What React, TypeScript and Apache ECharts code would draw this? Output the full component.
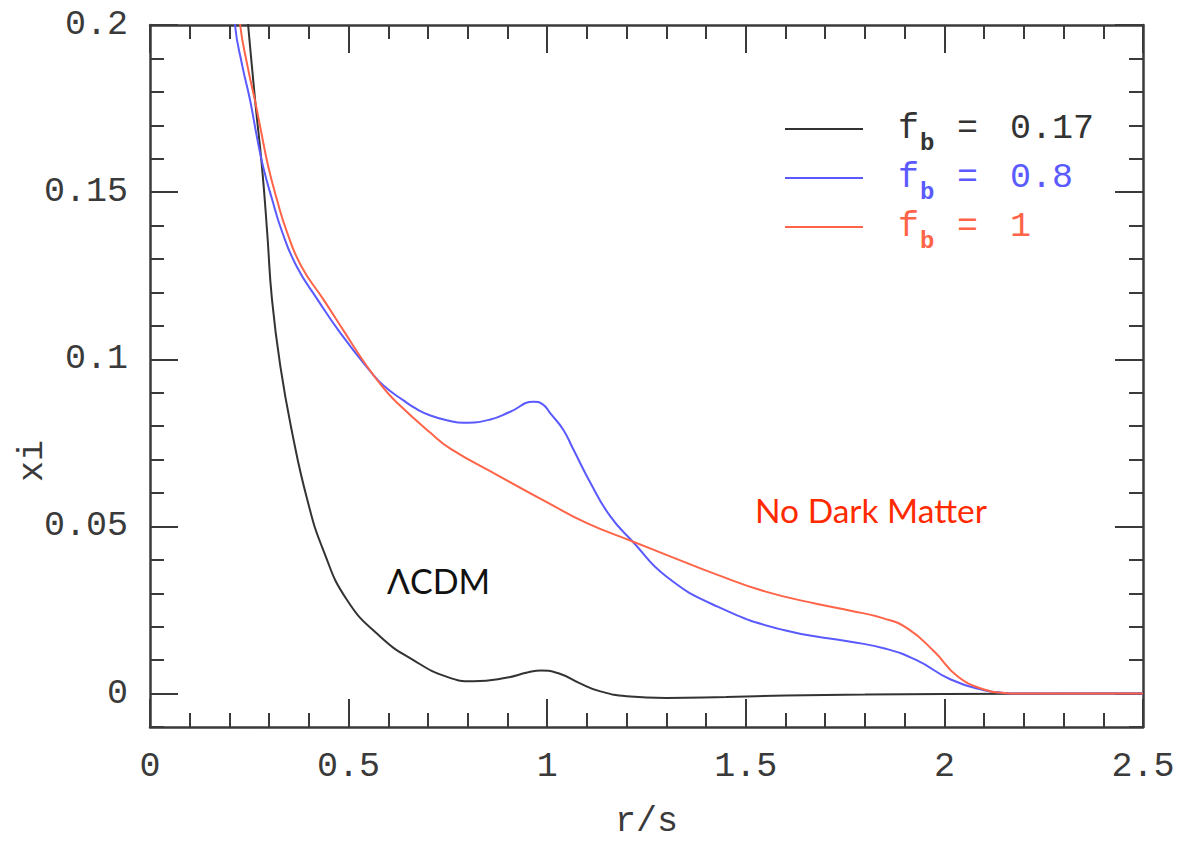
import { useEffect, useRef } from "react";
import * as echarts from "echarts";

// ---- data ----
const rLCDM = [0.235, 0.247, 0.265, 0.282, 0.295, 0.307, 0.328, 0.358, 0.396, 0.436, 0.496, 0.58, 0.663, 0.748, 0.814, 0.9, 0.95, 0.985, 1.03, 1.08, 1.13, 1.2, 1.3, 1.45, 1.6, 1.8, 2.0, 2.5];
const xiLCDM = [0.215, 0.2, 0.177, 0.1575, 0.138, 0.118, 0.098, 0.078, 0.058, 0.043, 0.028, 0.017, 0.01, 0.005, 0.0037, 0.0048, 0.0063, 0.0069, 0.006, 0.0032, 0.0008, -0.0008, -0.0013, -0.001, -0.0006, -0.0003, -0.0001, 0];

const rFb08 = [0.2, 0.214, 0.232, 0.252, 0.27, 0.285, 0.307, 0.333, 0.37, 0.421, 0.479, 0.554, 0.587, 0.638, 0.673, 0.706, 0.75, 0.789, 0.857, 0.907, 0.966, 0.988, 1.008, 1.04, 1.066, 1.109, 1.159, 1.215, 1.3, 1.429, 1.595, 1.764, 1.85, 1.93, 2.016, 2.1, 2.15, 2.2, 2.5];
const xiFb08 = [0.225, 0.2, 0.188, 0.1775, 0.166, 0.1575, 0.148, 0.138, 0.1276, 0.118, 0.1079, 0.0965, 0.0922, 0.0877, 0.085, 0.0832, 0.0817, 0.081, 0.082, 0.0843, 0.0873, 0.0866, 0.0838, 0.079, 0.073, 0.063, 0.053, 0.0455, 0.035, 0.026, 0.019, 0.0155, 0.0135, 0.01, 0.0042, 0.001, 0.0002, 0, 0];

const rFb1 = [0.21, 0.227, 0.245, 0.265, 0.28, 0.298, 0.319, 0.345, 0.382, 0.436, 0.491, 0.537, 0.587, 0.622, 0.706, 0.756, 0.88, 1.0, 1.1, 1.215, 1.3, 1.429, 1.55, 1.68, 1.764, 1.847, 1.907, 1.975, 2.033, 2.1, 2.15, 2.2, 2.5];
const xiFb1 = [0.222, 0.2, 0.188, 0.177, 0.168, 0.1575, 0.148, 0.138, 0.1276, 0.118, 0.1079, 0.0995, 0.0915, 0.087, 0.078, 0.0733, 0.065, 0.0572, 0.051, 0.0455, 0.0415, 0.0355, 0.0305, 0.0268, 0.0248, 0.0225, 0.0195, 0.0125, 0.0052, 0.0012, 0.0002, 0, 0];

const seriesNames = ["f_b = 0.17", "f_b = 0.8", "f_b = 1"];
const fbValues = ["0.17", "0.8", "1"];
const seriesColors = ["#333333", "#5a5aff", "#ff6448"];

const xMin = 0;
const xMax = 2.5;
const xInterval = 0.5;
const yMin = -0.01;
const yMax = 0.2;
const yMinorInterval = 0.01;
const yLabelValues = [0, 0.05, 0.1, 0.15, 0.2];

const zip = (xs: number[], ys: number[]) => xs.map((x, i) => [x, ys[i]]);

const AXIS_COLOR = "#3a3a3a";
const MONO = "'Liberation Mono', 'DejaVu Sans Mono', monospace";
const LABEL_SIZE = 35;

export default function App() {
  const ref = useRef<HTMLDivElement>(null);

  useEffect(() => {
    if (!ref.current) return;
    const chart = echarts.init(ref.current, undefined, { renderer: "svg" });

    const lineStyle = { color: AXIS_COLOR, width: 2.5 };
    const majorTick = { show: true, inside: true, length: 28, lineStyle: { color: AXIS_COLOR, width: 2 } };
    const minorTick = { show: true, splitNumber: 5, length: 14, lineStyle: { color: AXIS_COLOR, width: 2 } };

    const yMajorTick = (pos: "left" | "right") => ({
      type: "value",
      position: pos,
      min: yMin,
      max: yMax,
      axisLine: { show: false, onZero: false },
      axisTick: { ...majorTick, customValues: yLabelValues },
      axisLabel: { show: false },
      splitLine: { show: false },
    });

    const fmtY = (v: number) => String(Number(v.toFixed(2)));

    const option: any = {
      animation: false,
      grid: { left: 150, top: 25, right: 36, bottom: 119, containLabel: false },
      xAxis: [
        {
          type: "value",
          position: "bottom",
          min: xMin,
          max: xMax,
          interval: xInterval,
          axisLine: { show: true, onZero: false, lineStyle },
          axisTick: majorTick,
          minorTick,
          axisLabel: {
            color: AXIS_COLOR,
            fontFamily: MONO,
            fontSize: LABEL_SIZE,
            margin: 22,
            formatter: (v: number) => String(Number(v.toFixed(2))),
          },
          splitLine: { show: false },
          name: "r/s",
          nameLocation: "middle",
          nameGap: 77,
          nameTextStyle: { color: AXIS_COLOR, fontFamily: MONO, fontSize: LABEL_SIZE },
        },
        {
          type: "value",
          position: "top",
          min: xMin,
          max: xMax,
          interval: xInterval,
          axisLine: { show: true, onZero: false, lineStyle },
          axisTick: majorTick,
          minorTick,
          axisLabel: { show: false },
          splitLine: { show: false },
        },
      ],
      yAxis: [
        {
          type: "value",
          position: "left",
          min: yMin,
          max: yMax,
          interval: yMinorInterval,
          axisLine: { show: true, onZero: false, lineStyle },
          axisTick: { show: true, inside: true, length: 14, lineStyle: { color: AXIS_COLOR, width: 2 } },
          axisLabel: {
            color: AXIS_COLOR,
            fontFamily: MONO,
            fontSize: LABEL_SIZE,
            margin: 22,
            customValues: yLabelValues,
            formatter: fmtY,
          },
          splitLine: { show: false },
        },
        yMajorTick("left"),
        {
          type: "value",
          position: "right",
          min: yMin,
          max: yMax,
          interval: yMinorInterval,
          axisLine: { show: true, onZero: false, lineStyle },
          axisTick: { show: true, inside: true, length: 14, lineStyle: { color: AXIS_COLOR, width: 2 } },
          axisLabel: { show: false },
          splitLine: { show: false },
        },
        yMajorTick("right"),
      ],
      legend: {
        orient: "vertical",
        left: 785,
        top: 103,
        padding: 0,
        itemGap: -3,
        itemWidth: 78,
        itemHeight: 2,
        icon: "rect",
        data: seriesNames.map((n, i) => ({ name: n, textStyle: { color: seriesColors[i] } })),
        formatter: (name: string) => {
          const i = seriesNames.indexOf(name);
          return `{sp| }{f|f}{b|b}{e|=}{v|${fbValues[i]}}`;
        },
        textStyle: {
          fontFamily: MONO,
          fontSize: LABEL_SIZE,
          lineHeight: 48,
          rich: {
            sp: { width: 30, fontSize: 10, lineHeight: 48 },
            f: { width: 22, fontFamily: MONO, fontSize: LABEL_SIZE, lineHeight: 48 },
            b: { width: 37, fontFamily: MONO, fontSize: 24, fontWeight: "bold", lineHeight: 20, padding: [28, 0, 0, 0] },
            e: { width: 53, fontFamily: MONO, fontSize: LABEL_SIZE, lineHeight: 48 },
            v: { fontFamily: MONO, fontSize: LABEL_SIZE, lineHeight: 48 },
          },
        },
      },
      series: [
        { data: zip(rLCDM, xiLCDM) },
        { data: zip(rFb08, xiFb08) },
        { data: zip(rFb1, xiFb1) },
      ].map((s, i) => ({
        type: "line",
        name: seriesNames[i],
        data: s.data,
        xAxisIndex: 0,
        yAxisIndex: 0,
        smooth: 0.5,
        showSymbol: false,
        clip: true,
        color: seriesColors[i],
        lineStyle: { color: seriesColors[i], width: 2 },
      })),
      graphic: [
        {
          type: "text",
          x: 33,
          y: 461,
          rotation: Math.PI / 2,
          style: {
            text: "xi",
            fontFamily: MONO,
            fontSize: LABEL_SIZE,
            fill: AXIS_COLOR,
            align: "center",
            verticalAlign: "middle",
          },
        },
        {
          type: "text",
          x: 387,
          y: 580,
          style: {
            text: "ΛCDM",
            fontFamily: "Lato, 'Open Sans', sans-serif",
            fontSize: 34,
            fill: "#111111",
            align: "left",
            verticalAlign: "middle",
          },
        },
        {
          type: "text",
          x: 755,
          y: 510,
          style: {
            text: "No Dark Matter",
            fontFamily: "Lato, 'Open Sans', sans-serif",
            fontSize: 33.5,
            fill: "#ff2a00",
            align: "left",
            verticalAlign: "middle",
          },
        },
      ],
    };

    chart.setOption(option);
    return () => chart.dispose();
  }, []);

  return (
    <div
      ref={ref}
      style={{ position: "absolute", left: 0, top: 0, width: 1179, height: 846, background: "#ffffff" }}
    />
  );
}
